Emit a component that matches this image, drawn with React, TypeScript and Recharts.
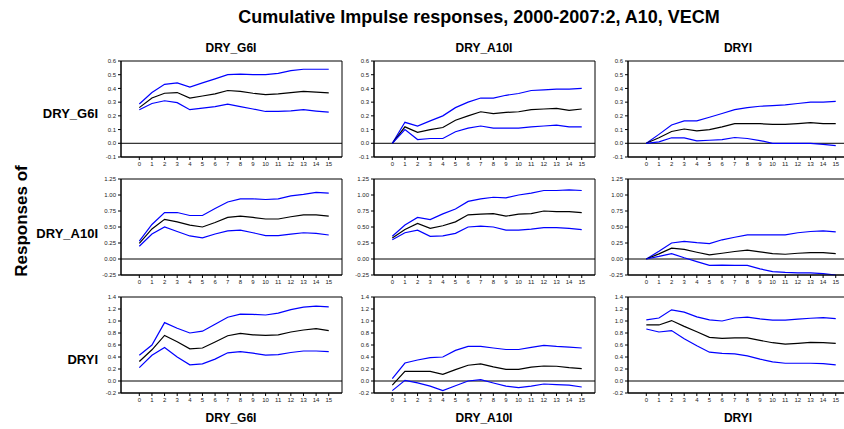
import { LineChart, Line, XAxis, YAxis, ReferenceLine, ReferenceArea } from 'recharts'

// horizon (periods after the shock)
const PERIODS = [0, 1, 2, 3, 4, 5, 6, 7, 8, 9, 10, 11, 12, 13, 14, 15]

const SHOCKS = ['DRY_G6I', 'DRY_A10I', 'DRYI']
const RESPONSES = ['DRY_G6I', 'DRY_A10I', 'DRYI']

// y-axis ticks per response row
const TICKS_G6I = [-0.1, 0, 0.1, 0.2, 0.3, 0.4, 0.5, 0.6]
const TICKS_A10I = [-0.25, 0, 0.25, 0.5, 0.75, 1, 1.25]
const TICKS_RYI = [-0.2, 0, 0.2, 0.4, 0.6, 0.8, 1, 1.2, 1.4]

// response of DRY_G6I
const G6I_G6I_LO = [0.245, 0.29, 0.31, 0.296, 0.245, 0.257, 0.267, 0.286, 0.267, 0.25, 0.232, 0.232, 0.237, 0.245, 0.235, 0.227]
const G6I_G6I_MID = [0.26, 0.33, 0.365, 0.37, 0.33, 0.345, 0.36, 0.385, 0.378, 0.365, 0.355, 0.36, 0.37, 0.378, 0.373, 0.368]
const G6I_G6I_HI = [0.286, 0.37, 0.43, 0.44, 0.41, 0.44, 0.47, 0.5, 0.505, 0.5, 0.5, 0.51, 0.53, 0.54, 0.54, 0.54]

const G6I_A10I_LO = [0, 0.1, 0.027, 0.035, 0.035, 0.084, 0.11, 0.126, 0.11, 0.11, 0.11, 0.12, 0.126, 0.133, 0.12, 0.12]
const G6I_A10I_MID = [0, 0.12, 0.08, 0.1, 0.115, 0.168, 0.2, 0.23, 0.217, 0.225, 0.23, 0.245, 0.25, 0.255, 0.24, 0.25]
const G6I_A10I_HI = [0, 0.153, 0.126, 0.163, 0.2, 0.26, 0.3, 0.33, 0.33, 0.35, 0.363, 0.385, 0.39, 0.395, 0.395, 0.4]

const G6I_RYI_LO = [0, 0.01, 0.04, 0.04, 0.017, 0.022, 0.027, 0.042, 0.035, 0.02, 0, 0, 0, 0, -0.008, -0.017]
const G6I_RYI_MID = [0, 0.04, 0.086, 0.104, 0.09, 0.1, 0.12, 0.143, 0.143, 0.143, 0.138, 0.138, 0.143, 0.15, 0.143, 0.143]
const G6I_RYI_HI = [0, 0.065, 0.133, 0.163, 0.163, 0.19, 0.217, 0.245, 0.26, 0.27, 0.274, 0.28, 0.29, 0.3, 0.3, 0.305]

// response of DRY_A10I
const A10I_G6I_LO = [0.2, 0.39, 0.5, 0.43, 0.36, 0.33, 0.39, 0.44, 0.45, 0.41, 0.365, 0.365, 0.39, 0.41, 0.4, 0.375]
const A10I_G6I_MID = [0.244, 0.47, 0.62, 0.58, 0.53, 0.5, 0.57, 0.65, 0.67, 0.65, 0.625, 0.625, 0.66, 0.69, 0.69, 0.67]
const A10I_G6I_HI = [0.28, 0.54, 0.726, 0.726, 0.68, 0.68, 0.79, 0.89, 0.94, 0.94, 0.93, 0.94, 0.985, 1.01, 1.04, 1.03]

const A10I_A10I_LO = [0.3, 0.41, 0.45, 0.355, 0.36, 0.4, 0.5, 0.514, 0.5, 0.45, 0.45, 0.466, 0.49, 0.49, 0.477, 0.46]
const A10I_A10I_MID = [0.33, 0.46, 0.556, 0.48, 0.52, 0.58, 0.69, 0.7, 0.71, 0.67, 0.7, 0.71, 0.75, 0.74, 0.74, 0.726]
const A10I_A10I_HI = [0.355, 0.53, 0.65, 0.615, 0.705, 0.78, 0.9, 0.94, 0.965, 0.955, 1.0, 1.03, 1.07, 1.07, 1.08, 1.07]

const A10I_RYI_LO = [0, 0.04, 0.085, 0.02, -0.04, -0.1, -0.095, -0.1, -0.1, -0.154, -0.196, -0.21, -0.217, -0.217, -0.23, -0.25]
const A10I_RYI_MID = [0, 0.08, 0.17, 0.15, 0.106, 0.064, 0.09, 0.117, 0.138, 0.11, 0.085, 0.074, 0.09, 0.1, 0.1, 0.085]
const A10I_RYI_HI = [0, 0.12, 0.25, 0.275, 0.255, 0.24, 0.3, 0.34, 0.376, 0.376, 0.376, 0.376, 0.41, 0.43, 0.44, 0.425]

// response of DRYI
const RYI_G6I_LO = [0.224, 0.43, 0.56, 0.4, 0.27, 0.285, 0.364, 0.47, 0.49, 0.464, 0.43, 0.44, 0.475, 0.5, 0.5, 0.49]
const RYI_G6I_MID = [0.325, 0.52, 0.76, 0.655, 0.537, 0.55, 0.65, 0.755, 0.794, 0.77, 0.76, 0.77, 0.817, 0.85, 0.873, 0.84]
const RYI_G6I_HI = [0.43, 0.6, 0.973, 0.88, 0.8, 0.83, 0.945, 1.063, 1.113, 1.11, 1.1, 1.13, 1.19, 1.23, 1.247, 1.236]

const RYI_A10I_LO = [-0.16, 0.01, -0.03, -0.085, -0.16, -0.08, 0, 0.022, -0.033, -0.084, -0.11, -0.084, -0.05, -0.06, -0.07, -0.1]
const RYI_A10I_MID = [-0.07, 0.16, 0.16, 0.16, 0.11, 0.19, 0.263, 0.285, 0.235, 0.195, 0.195, 0.23, 0.25, 0.246, 0.224, 0.207]
const RYI_A10I_HI = [0.04, 0.3, 0.35, 0.39, 0.4, 0.51, 0.576, 0.576, 0.55, 0.525, 0.525, 0.56, 0.593, 0.576, 0.565, 0.55]

const RYI_RYI_LO = [0.867, 0.817, 0.84, 0.705, 0.587, 0.48, 0.46, 0.453, 0.42, 0.364, 0.32, 0.296, 0.296, 0.296, 0.29, 0.27]
const RYI_RYI_MID = [0.934, 0.934, 1.007, 0.91, 0.82, 0.727, 0.71, 0.72, 0.72, 0.677, 0.638, 0.615, 0.627, 0.643, 0.638, 0.627]
const RYI_RYI_HI = [1.02, 1.05, 1.186, 1.147, 1.07, 1.02, 1.0, 1.05, 1.063, 1.035, 1.013, 1.013, 1.03, 1.046, 1.057, 1.04]

const ROWS = [
  { ticks: TICKS_G6I, digits: 1, cells: [
    [G6I_G6I_LO, G6I_G6I_MID, G6I_G6I_HI],
    [G6I_A10I_LO, G6I_A10I_MID, G6I_A10I_HI],
    [G6I_RYI_LO, G6I_RYI_MID, G6I_RYI_HI],
  ] },
  { ticks: TICKS_A10I, digits: 2, cells: [
    [A10I_G6I_LO, A10I_G6I_MID, A10I_G6I_HI],
    [A10I_A10I_LO, A10I_A10I_MID, A10I_A10I_HI],
    [A10I_RYI_LO, A10I_RYI_MID, A10I_RYI_HI],
  ] },
  { ticks: TICKS_RYI, digits: 1, cells: [
    [RYI_G6I_LO, RYI_G6I_MID, RYI_G6I_HI],
    [RYI_A10I_LO, RYI_A10I_MID, RYI_A10I_HI],
    [RYI_RYI_LO, RYI_RYI_MID, RYI_RYI_HI],
  ] },
]

const COL_LEFT = [121, 374, 628]
const ROW_TOP = [61, 179, 297]
const ROW_LABEL_MID = [114, 234, 360]
const PLOT_W = 220
const PLOT_H = 95
const Y_W = 30
const X_DOMAIN: [number, number] = [-1.45, 16.05]
const FONT = 'Arial, "Liberation Sans", sans-serif'
const BLUE = '#0000ff'

const tickStyle = { fontSize: 6, fill: '#222', fontFamily: FONT }

function Panel({ series, ticks, digits }: { series: number[][]; ticks: number[]; digits: number }) {
  const [lo, mid, hi] = series
  const data = PERIODS.map((p, i) => ({ p, lo: lo[i], mid: mid[i], hi: hi[i] }))
  const domain: [number, number] = [ticks[0], ticks[ticks.length - 1]]
  return (
    <LineChart
      width={Y_W + PLOT_W + 6}
      height={PLOT_H + 26}
      data={data}
      margin={{ top: 5, right: 5, bottom: 0, left: 0 }}
    >
      <XAxis
        dataKey="p"
        type="number"
        domain={X_DOMAIN}
        ticks={PERIODS}
        interval={0}
        height={20}
        tickSize={3}
        tickLine={{ stroke: '#000' }}
        axisLine={{ stroke: '#000' }}
        tick={tickStyle}
      />
      <YAxis
        type="number"
        domain={domain}
        ticks={ticks}
        interval={0}
        width={Y_W}
        tickSize={3}
        tickLine={{ stroke: '#000' }}
        axisLine={{ stroke: '#000' }}
        tick={tickStyle}
        tickFormatter={(v: number) => v.toFixed(digits)}
      />
      {/* plot frame */}
      <ReferenceArea
        x1={X_DOMAIN[0]}
        x2={X_DOMAIN[1]}
        y1={domain[0]}
        y2={domain[1]}
        fill="none"
        stroke="#000"
        strokeWidth={1}
      />
      <ReferenceLine y={0} stroke="#000" strokeWidth={1} />
      <Line dataKey="hi" stroke={BLUE} strokeWidth={1.2} dot={false} isAnimationActive={false} />
      <Line dataKey="mid" stroke="#000" strokeWidth={1.2} dot={false} isAnimationActive={false} />
      <Line dataKey="lo" stroke={BLUE} strokeWidth={1.2} dot={false} isAnimationActive={false} />
    </LineChart>
  )
}

export default function App() {
  return (
    <div
      style={{
        position: 'absolute',
        left: 0,
        top: 0,
        width: 844,
        height: 429,
        overflow: 'hidden',
        background: '#fff',
        fontFamily: FONT,
      }}
    >
      <div
        style={{ position: 'absolute', left: 0, width: 958, top: 7, textAlign: 'center', fontSize: 18, fontWeight: 'bold' }}
      >
        Cumulative Impulse responses, 2000-2007:2, A10, VECM
      </div>

      {SHOCKS.map((s, c) => (
        <div
          key={'t' + s}
          style={{ position: 'absolute', left: COL_LEFT[c], width: PLOT_W, top: 41, textAlign: 'center', fontSize: 12, fontWeight: 'bold' }}
        >
          {s}
        </div>
      ))}
      {SHOCKS.map((s, c) => (
        <div
          key={'b' + s}
          style={{ position: 'absolute', left: COL_LEFT[c], width: PLOT_W, top: 411, textAlign: 'center', fontSize: 12, fontWeight: 'bold' }}
        >
          {s}
        </div>
      ))}

      {RESPONSES.map((r, i) => (
        <div
          key={'r' + r}
          style={{ position: 'absolute', left: 0, width: 98, top: ROW_LABEL_MID[i] - 8, textAlign: 'right', fontSize: 13, fontWeight: 'bold' }}
        >
          {r}
        </div>
      ))}

      <div
        style={{
          position: 'absolute',
          left: 22 - 60,
          top: 222 - 11,
          width: 120,
          textAlign: 'center',
          fontSize: 17,
          fontWeight: 'bold',
          transform: 'rotate(-90deg)',
        }}
      >
        Responses of
      </div>

      {ROWS.map((row, r) =>
        row.cells.map((series, c) => (
          <div key={r + '-' + c} style={{ position: 'absolute', left: COL_LEFT[c] - Y_W, top: ROW_TOP[r] - 5 }}>
            <Panel series={series} ticks={row.ticks} digits={row.digits} />
          </div>
        ))
      )}
    </div>
  )
}
